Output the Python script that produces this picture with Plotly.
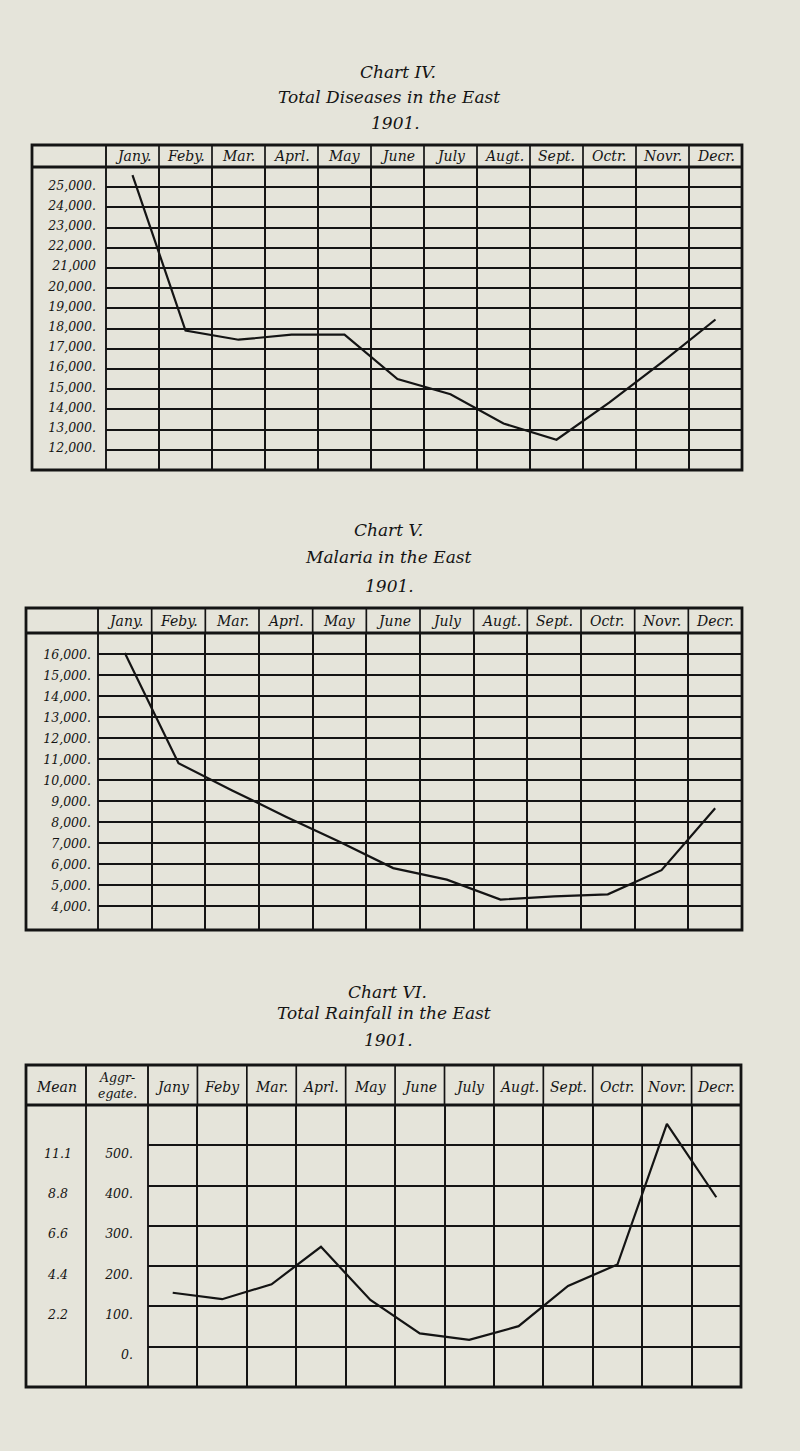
import plotly.graph_objects as go

W, H = 800, 1451

# ---------------- data ----------------
months_a = ["Jany.", "Feby.", "Mar.", "Aprl.", "May", "June", "July",
            "Augt.", "Sept.", "Octr.", "Novr.", "Decr."]
months_b = ["Jany", "Feby", "Mar.", "Aprl.", "May", "June", "July",
            "Augt.", "Sept.", "Octr.", "Novr.", "Decr."]

total_diseases = [25600, 17900, 17450, 17700, 17700, 15500, 14750,
                  13300, 12500, 14350, 16350, 18450]
malaria = [16050, 10800, 9500, 8250, 7050, 5800, 5250,
           4300, 4450, 4550, 5700, 8650]
rainfall = [134, 118, 155, 248, 116, 33, 17, 51, 151, 204, 553, 371]

iv_tickvals = [25000, 24000, 23000, 22000, 21000, 20000, 19000, 18000,
               17000, 16000, 15000, 14000, 13000, 12000]
iv_ticktext = ["25,000.", "24,000.", "23,000.", "22,000.", "21,000", "20,000.",
               "19,000.", "18,000.", "17,000.", "16,000.", "15,000.", "14,000.",
               "13,000.", "12,000."]
v_tickvals = [16000, 15000, 14000, 13000, 12000, 11000, 10000, 9000,
              8000, 7000, 6000, 5000, 4000]
v_ticktext = ["16,000.", "15,000.", "14,000.", "13,000.", "12,000.", "11,000.",
              "10,000.", "9,000.", "8,000.", "7,000.", "6,000.", "5,000.", "4,000."]
vi_tickvals = [500, 400, 300, 200, 100, 0]
vi_ticktext = ["500.", "400.", "300.", "200.", "100.", "0."]
vi_mean_vals = [500, 400, 300, 200, 100]
vi_mean_text = ["11.1", "8.8", "6.6", "4.4", "2.2"]

titles = [
    ["Chart IV.", "Total Diseases in the East", "1901."],
    ["Chart V.", "Malaria in the East", "1901."],
    ["Chart VI.", "Total Rainfall in the East", "1901."],
]

# ---------------- style / geometry ----------------
BG = "#e5e4da"
INK = "#141414"
FONT = "DejaVu Serif"


def xp(px):
    return px / W


def yp(py):
    return 1 - py / H


# table geometry in pixels
geo = [
    dict(top=145, hb=167, bot=470, left=32, split=[106], right=742,
         yr=[11000, 26000], title_y=[72, 97, 123], title_x=[398, 389, 395],
         standoff=9, shift=-2),
    dict(top=608, hb=633, bot=930, left=26, split=[98], right=742,
         yr=[2850, 17000], title_y=[530, 557, 586], title_x=[388, 388, 389],
         standoff=6, shift=1),
    dict(top=1065, hb=1105, bot=1387, left=26, split=[86, 148], right=741,
         yr=[-100, 600], title_y=[992, 1013, 1040], title_x=[387, 384, 388],
         standoff=14, shift=8),
]

series = [total_diseases, malaria, rainfall]
tickvals = [iv_tickvals, v_tickvals, vi_tickvals]
ticktexts = [iv_ticktext, v_ticktext, vi_ticktext]
month_sets = [months_a, months_a, months_b]

fig = go.Figure()
shapes = []
annotations = []
layout_axes = {}


def label(x, y, text, size, xref="paper", yref="paper", yshift=0):
    return dict(x=x, xref=xref, y=y, yref=yref, text=text, showarrow=False,
                xanchor="center", yanchor="middle", yshift=yshift,
                font=dict(family=FONT, size=size, color=INK, style="italic"))


for k in range(3):
    g = geo[k]
    sfx = "" if k == 0 else str(k + 1)
    xname, yname = "x" + sfx, "y" + sfx
    fig.add_trace(go.Scatter(
        x=list(range(12)), y=series[k], mode="lines",
        line=dict(color=INK, width=2.2), xaxis=xname, yaxis=yname,
        hoverinfo="skip", showlegend=False))

    layout_axes["xaxis" + sfx] = dict(
        domain=[xp(g["split"][-1]), xp(g["right"])],
        range=[-0.5, 11.5], anchor=yname,
        tickvals=[i + 0.5 for i in range(11)], showticklabels=False,
        ticks="", showgrid=True, gridcolor=INK, gridwidth=1.7,
        zeroline=False, showline=False, fixedrange=True)
    layout_axes["yaxis" + sfx] = dict(
        domain=[yp(g["bot"]), yp(g["hb"])],
        range=g["yr"], anchor=xname,
        tickvals=tickvals[k], ticktext=ticktexts[k], ticks="",
        showgrid=True, gridcolor=INK, gridwidth=1.9,
        zeroline=False, showline=False, fixedrange=True,
        tickfont=dict(family=FONT, size=12.5, color=INK, style="italic"),
        ticklabelstandoff=g["standoff"], ticklabelshift=g["shift"])

    # outer border
    shapes.append(dict(type="rect", xref="paper", yref="paper",
                       x0=xp(g["left"]), x1=xp(g["right"]),
                       y0=yp(g["bot"]), y1=yp(g["top"]),
                       line=dict(color=INK, width=2.8)))
    # header bottom line
    shapes.append(dict(type="line", xref="paper", yref="paper",
                       x0=xp(g["left"]), x1=xp(g["right"]),
                       y0=yp(g["hb"]), y1=yp(g["hb"]),
                       line=dict(color=INK, width=3.2)))
    # label column separators
    for s in g["split"]:
        shapes.append(dict(type="line", xref="paper", yref="paper",
                           x0=xp(s), x1=xp(s), y0=yp(g["bot"]), y1=yp(g["top"]),
                           line=dict(color=INK, width=1.9)))
    # month separators inside the header row
    for i in range(11):
        shapes.append(dict(type="line", xref=xname, yref="paper",
                           x0=i + 0.5, x1=i + 0.5,
                           y0=yp(g["hb"]), y1=yp(g["top"]),
                           line=dict(color=INK, width=1.7)))
    # month labels
    hy = yp((g["top"] + g["hb"]) / 2 + (2 if k == 2 else 0))
    for i, m in enumerate(month_sets[k]):
        annotations.append(label(i, hy, m, 14, xref=xname))
    # titles
    for j, t in enumerate(titles[k]):
        annotations.append(label(xp(g["title_x"][j]), yp(g["title_y"][j]), t, 17))

# chart VI extra header cells and mean column
g = geo[2]
annotations.append(label(xp((g["left"] + g["split"][0]) / 2),
                         yp((g["top"] + g["hb"]) / 2 + 2), "Mean", 14))
annotations.append(label(xp((g["split"][0] + g["split"][1]) / 2),
                         yp((g["top"] + g["hb"]) / 2), "Aggr-<br>egate.", 12.5))
for v, t in zip(vi_mean_vals, vi_mean_text):
    annotations.append(label(xp(58), v, t, 12.5, yref="y3", yshift=-8))

fig.update_layout(
    width=W, height=H, autosize=False,
    margin=dict(l=0, r=0, t=0, b=0, pad=0),
    paper_bgcolor=BG, plot_bgcolor=BG,
    shapes=shapes, annotations=annotations,
    showlegend=False,
    **layout_axes)

fig.write_html("out.html")
